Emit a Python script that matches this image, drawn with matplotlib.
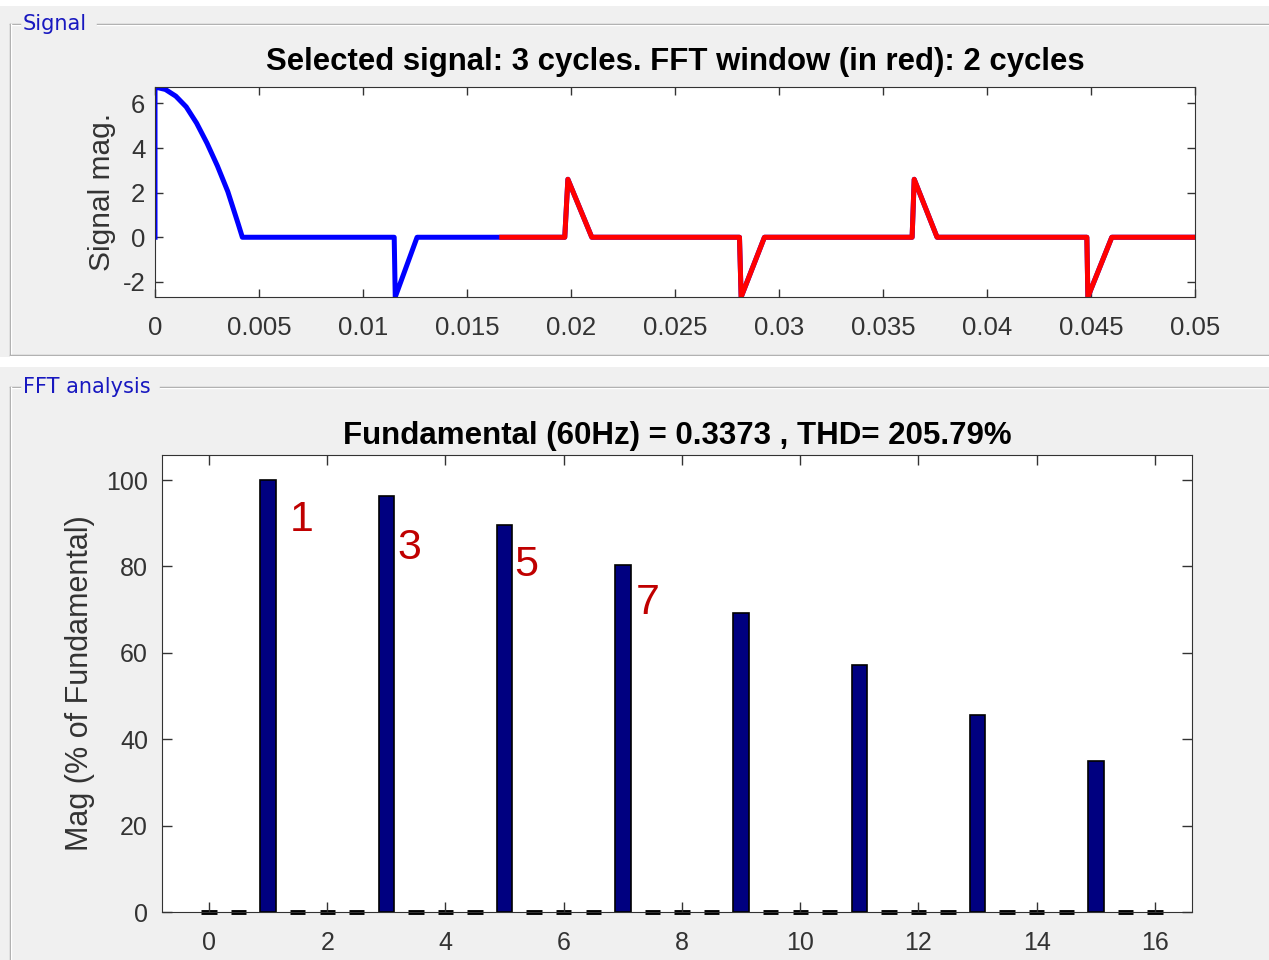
import numpy as np
import matplotlib
matplotlib.use('Agg')
from matplotlib import pyplot as plt
from matplotlib.lines import Line2D
from matplotlib.patches import Rectangle

# signal (time in s, magnitude)
sig_t = [0.0, 0.0, 0.0005, 0.001, 0.0015, 0.002, 0.0025, 0.003, 0.0035, 0.004, 0.0042,
         0.0115, 0.01155, 0.0126, 0.01667,
         0.0197, 0.01985, 0.0210, 0.0281, 0.02818, 0.0293,
         0.0364, 0.0365, 0.0376, 0.0448, 0.04485, 0.0460, 0.05]
sig_y = [0.0, 6.74, 6.63, 6.33, 5.85, 5.12, 4.22, 3.2, 2.05, 0.6, 0.0,
         0.0, -2.68, 0.0, 0.0,
         0.0, 2.6, 0.0, 0.0, -2.68, 0.0,
         0.0, 2.6, 0.0, 0.0, -2.68, 0.0, 0.0]
win_start = 0.01667  # FFT window begins after the first cycle

# harmonic spectrum, 0 .. 16 in steps of 0.5 (2-cycle window)
harm = [i * 0.5 for i in range(33)]
odd_mag = {1: 100.0, 3: 96.3, 5: 89.6, 7: 80.3, 9: 69.2, 11: 57.2, 13: 45.6, 15: 35.0}
mag = [odd_mag.get(h, 0.0) for h in harm]

lab_text = ['1', '3', '5', '7']
lab_x = [1.37, 3.19, 5.17, 7.21]
lab_y = [90.7, 84.3, 80.3, 71.5]

W, H = 1269, 960
plt.rcParams['font.family'] = ['Liberation Sans', 'DejaVu Sans']
plt.rcParams['axes.unicode_minus'] = False
fig = plt.figure(figsize=(W / 100, H / 100), dpi=100, facecolor='white')

gray = '#f0f0f0'
edge = '#a0a0a0'


def px(x, y):
    return x / W, 1 - y / H


# panel backgrounds
fig.patches.append(Rectangle(px(0, 357), 1, 351 / H, transform=fig.transFigure,
                             facecolor=gray, edgecolor='none', zorder=-10))
fig.patches.append(Rectangle(px(0, 960), 1, 593 / H, transform=fig.transFigure,
                             facecolor=gray, edgecolor='none', zorder=-10))


def hline(x0, x1, y):
    for dy, c in ((0, edge), (1, 'white')):
        fig.lines.append(Line2D([x0 / W, x1 / W], [1 - (y + dy) / H] * 2,
                                transform=fig.transFigure, color=c, lw=1))


def vline(x, y0, y1):
    for dx, c in ((0, edge), (1, 'white')):
        fig.lines.append(Line2D([(x + dx) / W] * 2, [1 - y0 / H, 1 - y1 / H],
                                transform=fig.transFigure, color=c, lw=1))


hline(10, 20, 24)
hline(97, W, 24)
vline(10, 24, 355)
hline(10, W, 355)
hline(10, 20, 387)
hline(160, W, 387)
vline(10, 387, H)
fig.text(*px(23, 24), 'Signal', color='#1818c0', fontsize=15, family='DejaVu Sans',
         va='center', ha='left')
fig.text(*px(23, 387), 'FFT analysis', color='#1818c0', fontsize=15, family='DejaVu Sans',
         va='center', ha='left')

tcol = '#333333'

# upper axes: signal
ax1 = fig.add_axes([155 / W, 1 - 297 / H, 1040 / W, 210 / H])
t = np.array(sig_t)
y = np.array(sig_y)
ax1.plot(t, y, color='#0000ff', lw=3.6, solid_joinstyle='round')
m = t >= win_start
ax1.plot(t[m], y[m], color='#ff0000', lw=3.6, solid_joinstyle='round')
ax1.set_xlim(0, 0.05)
ax1.set_ylim(min(sig_y), max(sig_y))
ax1.set_xticks(np.arange(0, 0.0501, 0.005))
ax1.set_xticklabels(['0', '0.005', '0.01', '0.015', '0.02', '0.025', '0.03',
                     '0.035', '0.04', '0.045', '0.05'])
ax1.set_yticks([-2, 0, 2, 4, 6])
ax1.tick_params(direction='in', top=True, right=True, length=6, width=1,
                labelsize=18.5, labelcolor=tcol, color=tcol)
ax1.tick_params(axis='x', pad=14)
ax1.tick_params(axis='y', pad=7)
ax1.set_ylabel('Signal mag.', fontsize=21.5, color=tcol, labelpad=5)
ax1.set_title('Selected signal: 3 cycles. FFT window (in red): 2 cycles',
              fontsize=22.4, fontweight='bold', pad=12)
for s in ax1.spines.values():
    s.set_color(tcol)

# lower axes: spectrum
ax2 = fig.add_axes([162 / W, 1 - 912 / H, 1030 / W, 457 / H])
harm_a = np.array(harm)
mag_a = np.array(mag)
nz = mag_a > 0
ax2.bar(harm_a[nz], mag_a[nz], width=0.26, color='#000080', edgecolor='black', lw=1.2)
ax2.bar(harm_a[~nz], mag_a[~nz], width=0.26, color='black', edgecolor='black', lw=3.5,
        clip_on=False)
for s, xx, yy in zip(lab_text, lab_x, lab_y):
    ax2.text(xx, yy, s, color='#c00000', fontsize=31, ha='left', va='center')
ax2.set_xlim(-0.795, 16.626)
ax2.set_ylim(0, 105.8)
ax2.set_xticks(range(0, 17, 2))
ax2.set_yticks(range(0, 101, 20))
ax2.tick_params(direction='in', top=True, right=True, length=7, width=1,
                labelsize=18, labelcolor=tcol, color=tcol)
ax2.tick_params(axis='x', pad=14)
ax2.tick_params(axis='y', pad=10)
ax2.set_ylabel('Mag (% of Fundamental)', fontsize=22, color=tcol, labelpad=8)
ax2.set_title('Fundamental (60Hz) = 0.3373 , THD= 205.79%',
              fontsize=22.5, fontweight='bold', pad=8)
for s in ax2.spines.values():
    s.set_color(tcol)

fig.savefig('out.png', dpi=100, facecolor=fig.get_facecolor())
